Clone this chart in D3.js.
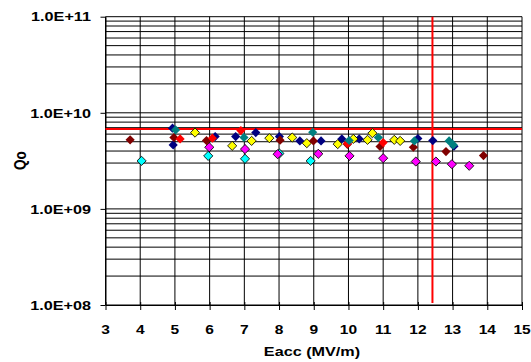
<!DOCTYPE html>
<html>
<head>
<meta charset="utf-8">
<script src="https://cdn.jsdelivr.net/npm/d3@7"></script>
<style>
  body { margin: 0; background: #fff; }
  text { font-family: Arial, "Liberation Sans", sans-serif; font-weight: bold; font-size: 13px; fill: #000; }
</style>
</head>
<body>
<svg id="chart" width="531" height="362"></svg>
<script>
// Eacc (MV/m) and Qo for each test series
var navyE = [4.93, 4.95, 6.16, 6.75, 7.33, 8.01, 8.6, 9.21, 9.81, 10.31, 12.0, 12.43, 13.04],
    navyQ = [6.92e9, 4.63e9, 5.66e9, 5.66e9, 6.22e9, 5.66e9, 5.1e9, 5.1e9, 5.35e9, 5.35e9, 5.4e9, 5.14e9, 4.5e9];
var maroonE = [3.71, 4.97, 5.91, 8.03, 8.99, 9.97, 10.91, 11.87, 12.81, 13.89],
    maroonQ = [5.23e9, 5.53e9, 5.14e9, 5.19e9, 5.1e9, 4.7e9, 4.46e9, 4.38e9, 3.95e9, 3.59e9];
var redE = [5.15, 6.08, 6.9, 9.97, 11.0],
    redQ = [5.35e9, 5.45e9, 6.53e9, 4.8e9, 4.9e9];
var tealE = [5.02, 6.99, 8.97, 10.02, 10.86, 11.9, 12.9, 13.02],
    tealQ = [6.64e9, 5.53e9, 6.28e9, 5.15e9, 5.53e9, 5.1e9, 5.1e9, 4.63e9];
var yellowE = [5.58, 6.65, 7.21, 7.72, 8.38, 8.8, 9.69, 10.14, 10.55, 10.69, 11.32, 11.49],
    yellowQ = [6.22e9, 4.53e9, 5.1e9, 5.45e9, 5.53e9, 4.83e9, 4.72e9, 5.35e9, 5.23e9, 6.14e9, 5.23e9, 5.1e9];
var magentaE = [5.99, 7.02, 7.96, 9.13, 10.03, 11.0, 11.94, 12.52, 12.98, 13.48],
    magentaQ = [4.38e9, 4.19e9, 3.71e9, 3.74e9, 3.56e9, 3.37e9, 3.11e9, 3.11e9, 2.92e9, 2.81e9];
var cyanE = [4.04, 5.96, 7.02, 8.01, 8.91],
    cyanQ = [3.16e9, 3.56e9, 3.32e9, 3.77e9, 3.16e9];

// spec limits (red lines)
var specQ = 6.8e9,
    specE = 12.42;

var xTicks = [3, 4, 5, 6, 7, 8, 9, 10, 11, 12, 13, 14, 15],
    yTicks = [1e8, 1e9, 1e10, 1e11];

var svg = d3.select("#chart"),
    margin = {top: 16.7, right: 9, bottom: 57, left: 105.5},
    width = svg.attr("width") - margin.left - margin.right,
    height = svg.attr("height") - margin.top - margin.bottom;

var x = d3.scaleLinear().domain([3, 15]).range([margin.left, margin.left + width]),
    y = d3.scaleLog().domain([1e8, 1e11]).range([margin.top + height, margin.top]);

// gridlines (major + minor decades)
var minor = [];
for (var p = 8; p < 11; p++) {
    for (var k = 1; k < 10; k++) minor.push(k * Math.pow(10, p));
}
minor.push(1e11);

var grid = svg.append("g").attr("stroke", "#000").attr("stroke-width", 1);

grid.selectAll(".hgrid")
    .data(minor)
    .enter().append("line")
    .attr("x1", x(3)).attr("x2", x(15))
    .attr("y1", function(d) { return y(d); })
    .attr("y2", function(d) { return y(d); });

grid.selectAll(".vgrid")
    .data(xTicks)
    .enter().append("line")
    .attr("x1", function(d) { return x(d); })
    .attr("x2", function(d) { return x(d); })
    .attr("y1", y(1e11)).attr("y2", y(1e8));

// axes
var xAxis = d3.axisBottom(x).tickValues(xTicks).tickSizeInner(5).tickSizeOuter(0).tickFormat("");
var yAxis = d3.axisLeft(y).tickValues(yTicks).tickSizeInner(5).tickSizeOuter(0).tickFormat("");

var gx = svg.append("g").attr("transform", "translate(0," + y(1e8) + ")").call(xAxis);
gx.select(".domain").attr("stroke", "#000");
gx.selectAll(".tick line").attr("y1", -3).attr("stroke", "#000");

var gy = svg.append("g").attr("transform", "translate(" + x(3) + ",0)").call(yAxis);
gy.select(".domain").attr("stroke", "#000");
gy.selectAll(".tick line").attr("stroke", "#000");

// tick labels, stretched sideways like the original picture
svg.selectAll(".ylab")
    .data(yTicks)
    .enter().append("text")
    .attr("transform", function(d) { return "translate(91," + y(d) + ") scale(1.2,1)"; })
    .attr("text-anchor", "end")
    .attr("dy", "0.35em")
    .style("font-size", "13.5px")
    .text(function(d) { return "1.0E+" + ("0" + Math.round(Math.log10(d))).slice(-2); });

svg.selectAll(".xlab")
    .data(xTicks)
    .enter().append("text")
    .attr("transform", function(d) { return "translate(" + x(d) + ",333.5) scale(1.15,1)"; })
    .attr("text-anchor", "middle")
    .style("font-size", "13.5px")
    .text(function(d) { return d; });

svg.append("text")
    .attr("transform", "translate(312,356) scale(1.2,1)")
    .attr("text-anchor", "middle")
    .style("font-size", "13.5px")
    .text("Eacc (MV/m)");

svg.append("text")
    .attr("transform", "translate(20,160.7) scale(1.2,1) rotate(-90)")
    .attr("text-anchor", "middle")
    .attr("dy", "0.35em")
    .style("font-size", "13.5px")
    .text("Qo");

// red limit lines
var line = d3.line()
    .x(function(d) { return x(d[0]); })
    .y(function(d) { return y(d[1]); });

svg.append("path")
    .datum([[3, specQ], [15, specQ]])
    .attr("fill", "none").attr("stroke", "#ff0000").attr("stroke-width", 2)
    .attr("d", line);

svg.append("path")
    .datum([[specE, 1.05e8], [specE, 1e11]])
    .attr("fill", "none").attr("stroke", "#ff0000").attr("stroke-width", 2)
    .attr("d", line);

// markers
var series = [
    {E: cyanE, Q: cyanQ, fill: "#00ffff", stroke: "#000"},
    {E: magentaE, Q: magentaQ, fill: "#ff00ff", stroke: "#000"},
    {E: navyE, Q: navyQ, fill: "#000080", stroke: null},
    {E: yellowE, Q: yellowQ, fill: "#ffff00", stroke: "#000"},
    {E: maroonE, Q: maroonQ, fill: "#800000", stroke: null},
    {E: redE, Q: redQ, fill: "#ff0000", stroke: null},
    {E: tealE, Q: tealQ, fill: "#008080", stroke: null}
];

var diamond = d3.symbol().type(d3.symbolSquare).size(42);

series.forEach(function(s) {
    var pts = s.E.map(function(e, i) { return [e, s.Q[i]]; });
    svg.append("g").selectAll("path")
        .data(pts)
        .enter().append("path")
        .attr("transform", function(d) { return "translate(" + x(d[0]) + "," + y(d[1]) + ") rotate(45)"; })
        .attr("d", diamond)
        .attr("fill", s.fill)
        .attr("stroke", s.stroke || "none")
        .attr("stroke-width", 0.8);
});
</script>
</body>
</html>
